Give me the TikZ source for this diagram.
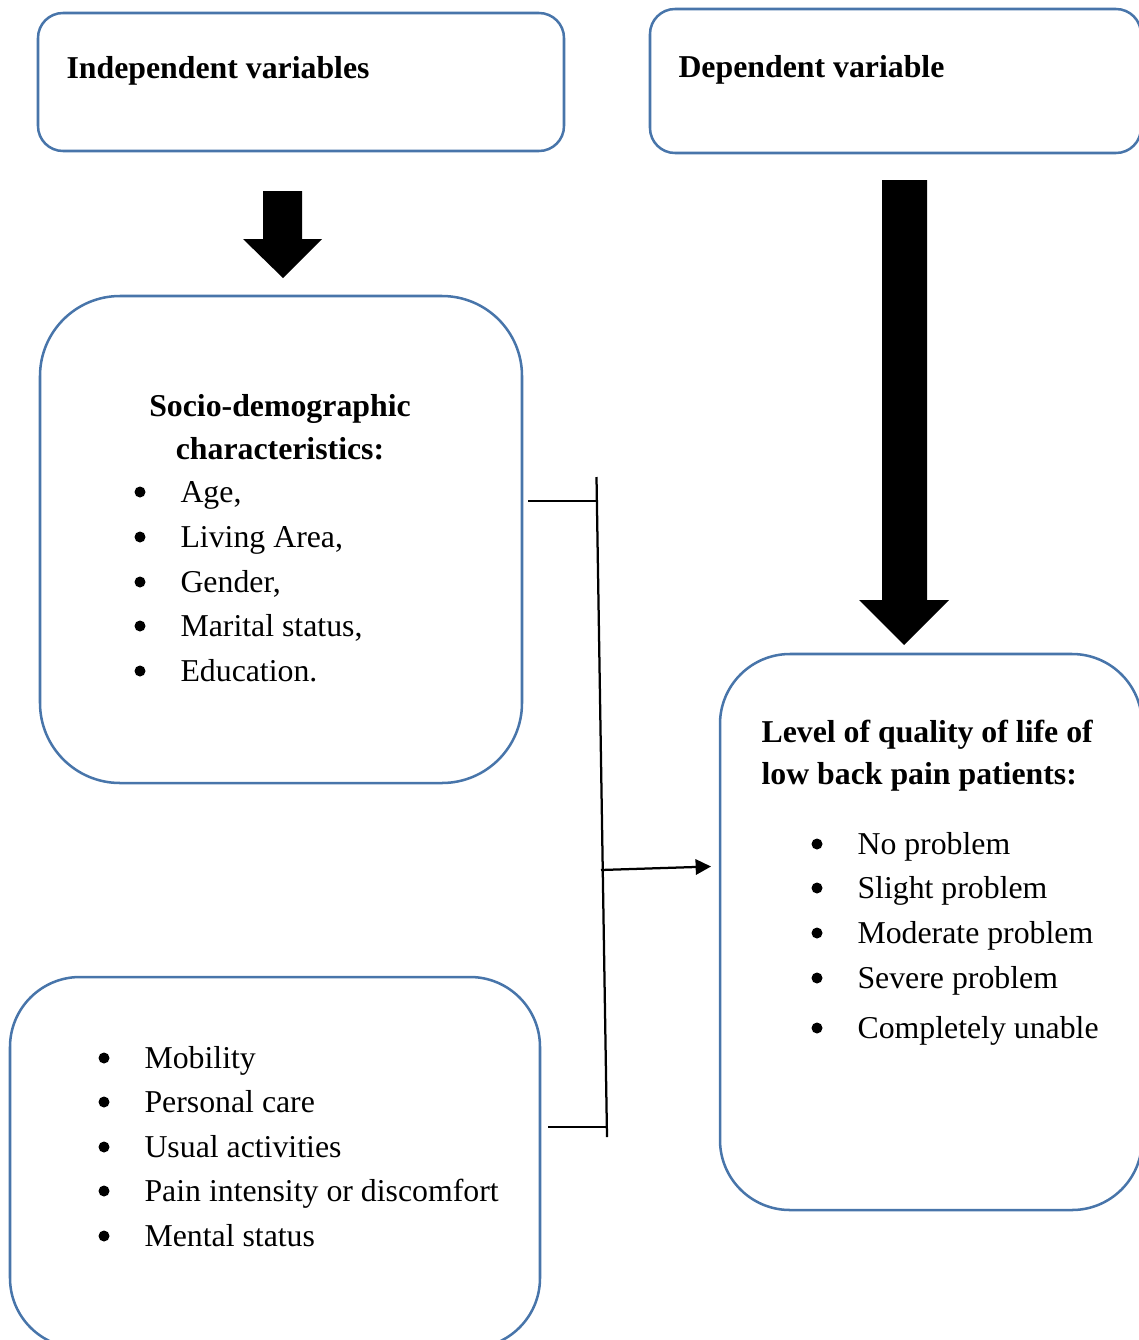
\documentclass[tikz,border=0pt]{standalone}
\usepackage{fontspec}
\setmainfont{Liberation Serif}
\usetikzlibrary{fit,arrows.meta}
\definecolor{boxblue}{RGB}{72,117,170}
\begin{document}
\begin{tikzpicture}[x=0.37736pt,y=-0.37736pt,
  box/.style={draw=boxblue, line width=0.95pt, inner sep=0pt},
  txt/.style={anchor=base west, inner sep=0pt, font=\fontsize{12}{14}\selectfont},
  btxt/.style={anchor=base west, inner sep=0pt, font=\fontsize{12}{14}\selectfont\bfseries},
  ctxt/.style={anchor=base, inner sep=0pt, font=\fontsize{12}{14}\selectfont\bfseries},
  conn/.style={line width=0.85pt, black},
  blockarrow/.style={fill=black},
  bul/.style={fill=black}]
\useasboundingbox (0,0) rectangle (1138,1340);

% boxes
\node[box, rounded corners=9.43pt, fit={(38,13) (564,151)}] (indep) {};
\node[box, rounded corners=9.43pt, fit={(650,9) (1141,153)}] (dep) {};
\node[box, rounded corners=30.2pt, fit={(40,296) (522,783)}] (socio) {};
\node[box, rounded corners=26.4pt, fit={(10,977) (540,1348)}] (eq) {};
\node[box, rounded corners=26.4pt, fit={(720,654) (1142,1210)}] (qol) {};

% headers
\node[btxt] (indeptxt) at (66,78) {Independent variables};
\node[btxt] (deptxt) at (678,77) {Dependent variable};

% block arrows
\fill[blockarrow] (263,191) -- (302,191) -- (302,239) -- (322,239) -- (283,278) -- (243,239) -- (263,239) -- cycle;
\fill[blockarrow] (882,180) -- (927,180) -- (927,600) -- (949,600) -- (904,645) -- (859,600) -- (882,600) -- cycle;

% socio-demographic box text
\node[ctxt] (sociot1) at (280,416) {Socio-demographic};
\node[ctxt] (sociot2) at (280,459) {characteristics:};
\foreach \y/\t [count=\i] in {502/{Age,}, 547/{Living Area,}, 592/{Gender,}, 636/{Marital status,}, 681/{Education.}}{
  \fill[bul] (140,\y-10) circle (5.5);
  \node[txt] (s\i) at (180,\y) {\t};
}

% EQ-5D box text
\foreach \y/\t [count=\i] in {1068/{Mobility}, 1112/{Personal care}, 1157/{Usual activities}, 1201/{Pain intensity or discomfort}, 1246/{Mental status}}{
  \fill[bul] (104,\y-10) circle (5.5);
  \node[txt] (e\i) at (144,\y) {\t};
}

% quality of life box text
\node[btxt] (qolt1) at (761,742) {Level of quality of life of};
\node[btxt] (qolt2) at (761,784) {low back pain patients:};
\foreach \y/\t [count=\i] in {854/{No problem}, 898/{Slight problem}, 943/{Moderate problem}, 988/{Severe problem}, 1038/{Completely unable}}{
  \fill[bul] (817,\y-10) circle (5.5);
  \node[txt] (q\i) at (857,\y) {\t};
}

% connectors
\coordinate (vtop) at (596.5,477);
\coordinate (vbot) at (607,1137);
\coordinate (htopL) at (528,501);
\coordinate (htopR) at (596.9,501);
\coordinate (hbotL) at (548,1127);
\coordinate (hbotR) at (606.8,1127);
\coordinate (amid) at (601,870);
\coordinate (aend) at (711,866.5);
\draw[conn] (vtop) -- (vbot);
\draw[conn] (htopL) -- (htopR);
\draw[conn] (hbotL) -- (hbotR);
\draw[conn, -{Triangle[length=5.8pt,width=5.8pt]}] (amid) -- (aend);
\end{tikzpicture}
\end{document}
